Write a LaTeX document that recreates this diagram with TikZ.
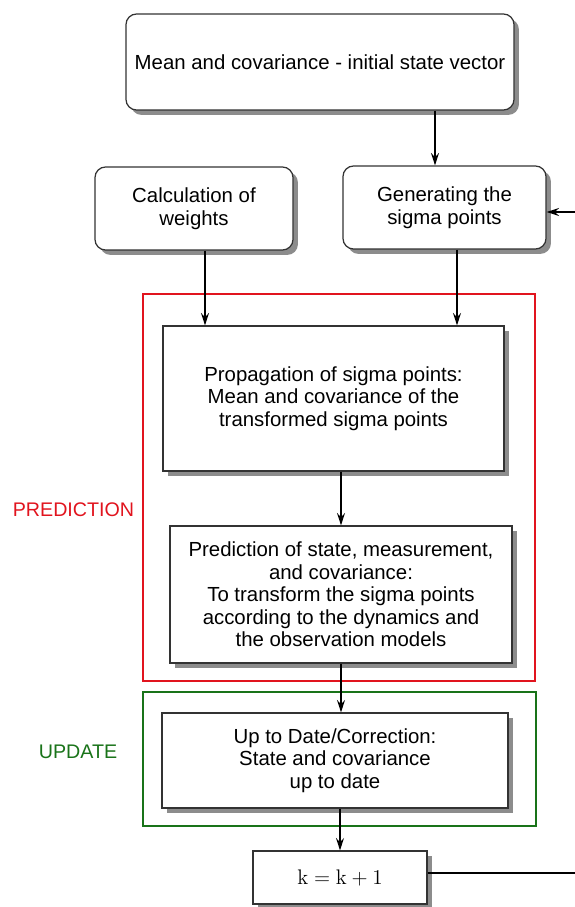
\documentclass[tikz,border=0pt]{standalone}
\usepackage[no-math]{fontspec}
\setmainfont{Liberation Sans}
\usepackage{tikz}
\usetikzlibrary{arrows.meta,shadows}

\definecolor{predred}{RGB}{225,20,30}
\definecolor{updgreen}{RGB}{25,115,25}

\begin{document}
\begin{tikzpicture}[->,>={Stealth[length=7pt,width=4.5pt]},line width=0.9pt,
  box/.style={draw=black!80,line width=0.7pt,fill=white,align=center,
    font=\fontsize{11.6}{12.8}\selectfont,inner sep=0pt,
    drop shadow={shadow xshift=2.8pt,shadow yshift=-2.8pt,fill=black!45,opacity=1}},
  round box/.style={box,rounded corners=6pt},
  frame/.style={-,line width=1.1pt},
  phase/.style={font=\fontsize{11.2}{13}\selectfont}]

  \useasboundingbox (0,0) rectangle (11.5,-18.14);

  \node[round box,minimum width=7.76cm,minimum height=1.92cm] (init) at (6.4,-1.24)
    {Mean and covariance - initial state vector};
  \node[round box,minimum width=3.96cm,minimum height=1.66cm] (weights) at (3.88,-4.17)
    {Calculation of\\weights};
  \node[round box,minimum width=4.06cm,minimum height=1.66cm] (sigma) at (8.89,-4.15)
    {Generating the\\sigma points};

  % prediction block
  \draw[frame,draw=predred] (2.86,-5.88) rectangle (10.7,-13.62);
  \node[phase,text=predred] (predlabel) at (1.47,-10.2) {PREDICTION};
  \node[box,minimum width=6.82cm,minimum height=2.9cm] (prop) at (6.67,-7.97)
    {Propagation of sigma points:\\Mean and covariance of the\\transformed sigma points};
  \node[box,minimum width=6.84cm,minimum height=2.74cm] (predict) at (6.82,-11.89)
    {Prediction of state, measurement,\\and covariance:\\To transform the sigma points\\according to the dynamics and\\the observation models};

  % update block
  \draw[frame,draw=updgreen] (2.86,-13.84) rectangle (10.72,-16.52);
  \node[phase,text=updgreen] (updlabel) at (1.56,-15.04) {UPDATE};
  \node[box,minimum width=6.92cm,minimum height=1.9cm] (update) at (6.7,-15.21)
    {Up to Date/Correction:\\State and covariance\\up to date};

  \node[box,minimum width=3.48cm,minimum height=1.06cm,font=\fontsize{12}{14}\selectfont] (kbox) at (6.8,-17.55)
    {$\mathrm{k}=\mathrm{k}+1$};

  \coordinate (loopout) at (11.5,-17.46);
  \coordinate (loopin) at (11.5,-4.24);

  \draw ([xshift=-0.19cm]sigma.north |- init.south) -- ([xshift=-0.19cm]sigma.north);
  \draw ([xshift=0.22cm]weights.south) -- ([xshift=0.22cm]weights.south |- prop.north);
  \draw ([xshift=0.25cm]sigma.south) -- ([xshift=0.25cm]sigma.south |- prop.north);
  \draw (prop.south -| predict.north) -- (predict.north);
  \draw (predict.south) -- (predict.south |- update.north);
  \draw (update.south -| kbox.north) -- (kbox.north);
  \draw[-] (kbox.east |- loopout) -- (loopout);
  \draw (loopin) -- (loopin -| sigma.east);

\end{tikzpicture}
\end{document}
